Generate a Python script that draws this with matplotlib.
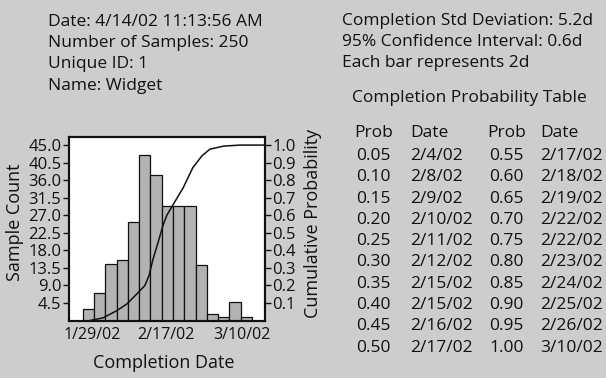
import matplotlib
matplotlib.use("Agg")
import matplotlib.pyplot as plt
import numpy as np

# histogram: 15 bins, each bar = 2 days, x in days from first bin edge
counts = [3, 7, 14.6, 15.4, 25.2, 42.5, 37.2, 29.3, 29.3, 29.3, 14.2, 1.7, 0.8, 4.7, 1.0]
bin_days = 2

# cumulative probability curve (days, prob)
cum_days = [1.3, 3.6, 6.1, 7.85, 9.6, 11.0, 11.75, 12.45, 13.35, 14.2, 14.9, 16.0,
            17.8, 19.5, 21.1, 22.5, 24.9, 27.9, 32.2]
cum_prob = [0.0, 0.015, 0.057, 0.095, 0.152, 0.199, 0.256, 0.35, 0.445, 0.54, 0.60, 0.66,
            0.757, 0.871, 0.938, 0.976, 0.994, 1.0, 1.0]

xtick_pos = [1.6, 14.7, 28.2]
xtick_labels = ["1/29/02", "2/17/02", "3/10/02"]
left_ticks = [4.5, 9.0, 13.5, 18.0, 22.5, 27.0, 31.5, 36.0, 40.5, 45.0]
right_ticks = [0.1, 0.2, 0.3, 0.4, 0.5, 0.6, 0.7, 0.8, 0.9, 1.0]

info_left = ["Date: 4/14/02 11:13:56 AM", "Number of Samples: 250", "Unique ID: 1", "Name: Widget"]
info_right = ["Completion Std Deviation: 5.2d", "95% Confidence Interval: 0.6d", "Each bar represents 2d"]

prob_a = ["0.05", "0.10", "0.15", "0.20", "0.25", "0.30", "0.35", "0.40", "0.45", "0.50"]
date_a = ["2/4/02", "2/8/02", "2/9/02", "2/10/02", "2/11/02", "2/12/02", "2/15/02", "2/15/02", "2/16/02", "2/17/02"]
prob_b = ["0.55", "0.60", "0.65", "0.70", "0.75", "0.80", "0.85", "0.90", "0.95", "1.00"]
date_b = ["2/17/02", "2/18/02", "2/19/02", "2/22/02", "2/22/02", "2/23/02", "2/24/02", "2/25/02", "2/26/02", "3/10/02"]

plt.rcParams["font.family"] = ["Open Sans", "DejaVu Sans"]
BG = "#cdcdcd"
INK = "#111111"
W, H = 606, 378

fig = plt.figure(figsize=(W / 100, H / 100), dpi=100, facecolor=BG)

def px(x, y):
    return x / W, 1 - y / H

def put(x, y, s, size=12.5, **kw):
    fig.text(*px(x, y), s, fontsize=size, color=INK, va="baseline", **kw)

# chart
ax = fig.add_axes([69 / W, 1 - 320.5 / H, 195.5 / W, 184 / H])
ax.set_facecolor("white")
edges = np.arange(len(counts)) * bin_days
ax.bar(edges, counts, width=bin_days, align="edge", color="#b3b3b3",
       edgecolor=INK, linewidth=0.9)
ax.set_xlim(-2.43, 32.2)
ax.set_ylim(0, 47.2)
ax.set_xticks(xtick_pos)
ax.set_xticklabels(xtick_labels, fontsize=11.5)
ax.tick_params(axis="x", length=0, pad=5, colors=INK)
ax.set_yticks(left_ticks)
ax.set_yticklabels([f"{v:.1f}" for v in left_ticks], fontsize=12)
ax.tick_params(axis="y", length=4, width=1, pad=1.5, colors=INK)
for sp in ax.spines.values():
    sp.set_linewidth(1.5)
    sp.set_color(INK)

ax2 = ax.twinx()
ax2.plot(cum_days, cum_prob, color=INK, lw=1.1, clip_on=True)
ax2.set_ylim(0, 47.2 / 45)
ax2.set_yticks(right_ticks)
ax2.set_yticklabels([f"{v:.1f}" for v in right_ticks], fontsize=12)
ax2.tick_params(axis="y", length=4, width=1, pad=1.5, colors=INK)
for sp in ax2.spines.values():
    sp.set_linewidth(1.5)
    sp.set_color(INK)

fig.text(*px(15, 222), "Sample Count", fontsize=13, color=INK, rotation=90,
         ha="center", va="center")
fig.text(*px(313, 223), "Cumulative Probability", fontsize=13, color=INK, rotation=90,
         ha="center", va="center")
fig.text(*px(164, 363), "Completion Date", fontsize=13, color=INK,
         ha="center", va="center")

# header texts
for i, s in enumerate(info_left):
    put(47.7, 26 + 21.2 * i, s)
for i, s in enumerate(info_right):
    put(341.7, 25 + 21 * i, s)
put(352.3, 101.7, "Completion Probability Table")

# probability table
put(354, 136.7, "Prob")
put(410, 136.7, "Date")
put(487.7, 136.7, "Prob")
put(540, 136.7, "Date")
for i in range(len(prob_a)):
    y = 160 + 21.3 * i
    put(356, y, prob_a[i])
    put(410, y, date_a[i])
    put(489, y, prob_b[i])
    put(540, y, date_b[i])

fig.savefig("out.png", dpi=100, facecolor=BG)
